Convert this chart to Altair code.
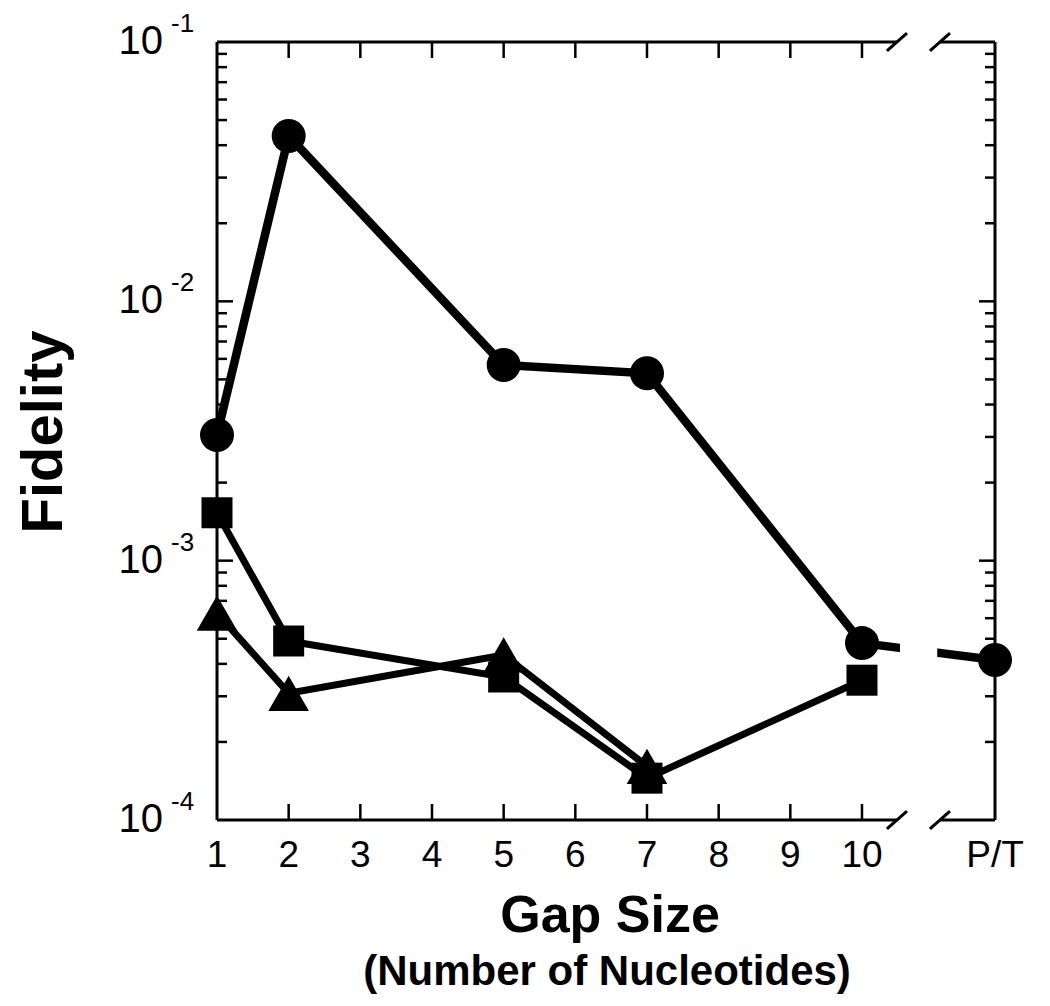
import altair as alt
import pandas as pd

FONT = "Liberation Sans"

# x position of the "P/T" column (after the axis break)
PT = 11.856
BREAK_L = 10.488   # first break slash / end of axis line
BREAK_R = 11.088   # second break slash / restart of axis line
GAP_L = 10.53      # gap in data line
GAP_R = 11.05

Y_MIN, Y_MAX = 1e-4, 1e-1

# ---- data series ----
circle_x = [1, 2, 5, 7, 10, PT]
circle_y = [3.05e-3, 4.34e-2, 5.68e-3, 5.28e-3, 4.81e-4, 4.14e-4]

square_x = [1, 2, 5, 7, 10]
square_y = [1.53e-3, 4.9e-4, 3.56e-4, 1.45e-4, 3.46e-4]

tri_x = [1, 2, 5, 7]
tri_y = [6.28e-4, 3.08e-4, 4.33e-4, 1.61e-4]

# ---- axes ----
x_tick_vals = [2, 3, 4, 5, 6, 7, 8, 9, 10]
x_label_pos = [1, 2, 3, 4, 5, 6, 7, 8, 9, 10, PT]
x_label_txt = ["1", "2", "3", "4", "5", "6", "7", "8", "9", "10", "P/T"]

y_major = [1e-3, 1e-2]
y_minor = [m * 10.0 ** e for e in (-4, -3, -2) for m in range(2, 10)]
y_label_pos = [1e-1, 1e-2, 1e-3, 1e-4]
y_label_exp = ["-1", "-2", "-3", "-4"]

circ_df = pd.DataFrame({"x": circle_x, "y": circle_y})
sq_df = pd.DataFrame({"x": square_x, "y": square_y})
tri_df = pd.DataFrame({"x": tri_x, "y": tri_y})

xs = alt.Scale(domain=[1, PT], nice=False, zero=False)
ys = alt.Scale(type="log", domain=[Y_MIN, Y_MAX], nice=False)
X = alt.X("x:Q", scale=xs, axis=None)
Y = alt.Y("y:Q", scale=ys, axis=None)


def line(df, w):
    return alt.Chart(df).mark_line(color="black", strokeWidth=w).encode(x=X, y=Y)


def pts(df, shape, size):
    return alt.Chart(df).mark_point(filled=True, opacity=1, color="black",
                                    shape=shape, size=size).encode(x=X, y=Y)


mask_df = pd.DataFrame({"x": [GAP_L], "x2": [GAP_R], "y": [Y_MIN], "y2": [Y_MAX]})
mask = alt.Chart(mask_df).mark_rect(color="white").encode(
    x=X, x2="x2:Q", y=Y, y2="y2:Q"
)

# frame segments (with the axis break) and break slashes
slash_dx = 0.14
slash_fy = 1.083
frame_df = pd.DataFrame([
    {"x": 1, "x2": 1, "y": Y_MIN, "y2": Y_MAX},
    {"x": PT, "x2": PT, "y": Y_MIN, "y2": Y_MAX},
    {"x": 1, "x2": BREAK_L, "y": Y_MAX, "y2": Y_MAX},
    {"x": BREAK_R, "x2": PT, "y": Y_MAX, "y2": Y_MAX},
    {"x": 1, "x2": BREAK_L, "y": Y_MIN, "y2": Y_MIN},
    {"x": BREAK_R, "x2": PT, "y": Y_MIN, "y2": Y_MIN},
] + [
    {"x": b - slash_dx, "x2": b + slash_dx, "y": yv / slash_fy, "y2": yv * slash_fy}
    for b in (BREAK_L, BREAK_R) for yv in (Y_MIN, Y_MAX)
])
frame = alt.Chart(frame_df).mark_rule(color="black", strokeWidth=3).encode(
    x=X, x2="x2:Q", y=Y, y2="y2:Q"
)

xt = pd.DataFrame({"x": x_tick_vals})
x_ticks_bottom = alt.Chart(xt).mark_rule(color="black", strokeWidth=2.5).encode(
    x=X, y=alt.value(778), y2=alt.value(762))
x_ticks_top = alt.Chart(xt).mark_rule(color="black", strokeWidth=2.5).encode(
    x=X, y=alt.value(0), y2=alt.value(16))

ymaj = pd.DataFrame({"y": y_major})
ymin = pd.DataFrame({"y": y_minor})
y_maj_l = alt.Chart(ymaj).mark_rule(color="black", strokeWidth=2.5).encode(
    y=Y, x=alt.value(0), x2=alt.value(16))
y_maj_r = alt.Chart(ymaj).mark_rule(color="black", strokeWidth=2.5).encode(
    y=Y, x=alt.value(778), x2=alt.value(762))
y_min_l = alt.Chart(ymin).mark_rule(color="black", strokeWidth=2.5).encode(
    y=Y, x=alt.value(0), x2=alt.value(10))
y_min_r = alt.Chart(ymin).mark_rule(color="black", strokeWidth=2.5).encode(
    y=Y, x=alt.value(778), x2=alt.value(768))

xl_df = pd.DataFrame({"x": x_label_pos, "t": x_label_txt})
x_labels = alt.Chart(xl_df).mark_text(
    font=FONT, fontSize=37, color="black", align="center", baseline="alphabetic", dy=47
).encode(x=X, y=alt.value(778), text="t:N")

yl_df = pd.DataFrame({"y": y_label_pos, "e": y_label_exp, "b": ["10"] * 4})
y_base = alt.Chart(yl_df).mark_text(
    font=FONT, fontSize=40, color="black", align="right", baseline="alphabetic", dy=12
).encode(y=Y, x=alt.value(-54), text="b:N")
y_exp = alt.Chart(yl_df).mark_text(
    font=FONT, fontSize=26, color="black", align="left", baseline="alphabetic", dy=-10
).encode(y=Y, x=alt.value(-46), text="e:N")

y_title = alt.Chart(pd.DataFrame({"t": ["Fidelity"]})).mark_text(
    font=FONT, fontSize=58, fontWeight="bold", color="black", angle=270,
    align="center", baseline="alphabetic"
).encode(x=alt.value(-155), y=alt.value(390), text="t:N")

x_title = alt.Chart(pd.DataFrame({"t": ["Gap Size"]})).mark_text(
    font=FONT, fontSize=52, fontWeight="bold", color="black",
    align="center", baseline="alphabetic"
).encode(x=alt.value(393), y=alt.value(890), text="t:N")

x_sub = alt.Chart(pd.DataFrame({"t": ["(Number of Nucleotides)"]})).mark_text(
    font=FONT, fontSize=42, fontWeight="bold", color="black",
    align="center", baseline="alphabetic"
).encode(x=alt.value(390), y=alt.value(943), text="t:N")

chart = alt.layer(
    line(circ_df, 8.5), line(sq_df, 7), line(tri_df, 7),
    mask,
    pts(circ_df, "circle", 1156), pts(sq_df, "square", 961), pts(tri_df, "triangle-up", 1650),
    frame,
    x_ticks_bottom, x_ticks_top, y_maj_l, y_maj_r, y_min_l, y_min_r,
    x_labels, y_base, y_exp, y_title, x_title, x_sub
).properties(
    width=778, height=778,
    padding={"left": 209, "top": 34, "right": 40, "bottom": 180},
    autosize=alt.AutoSizeParams(type="none"),
).configure_view(stroke=None)

chart.save("out.html", embed_options={"renderer": "svg", "actions": False})
